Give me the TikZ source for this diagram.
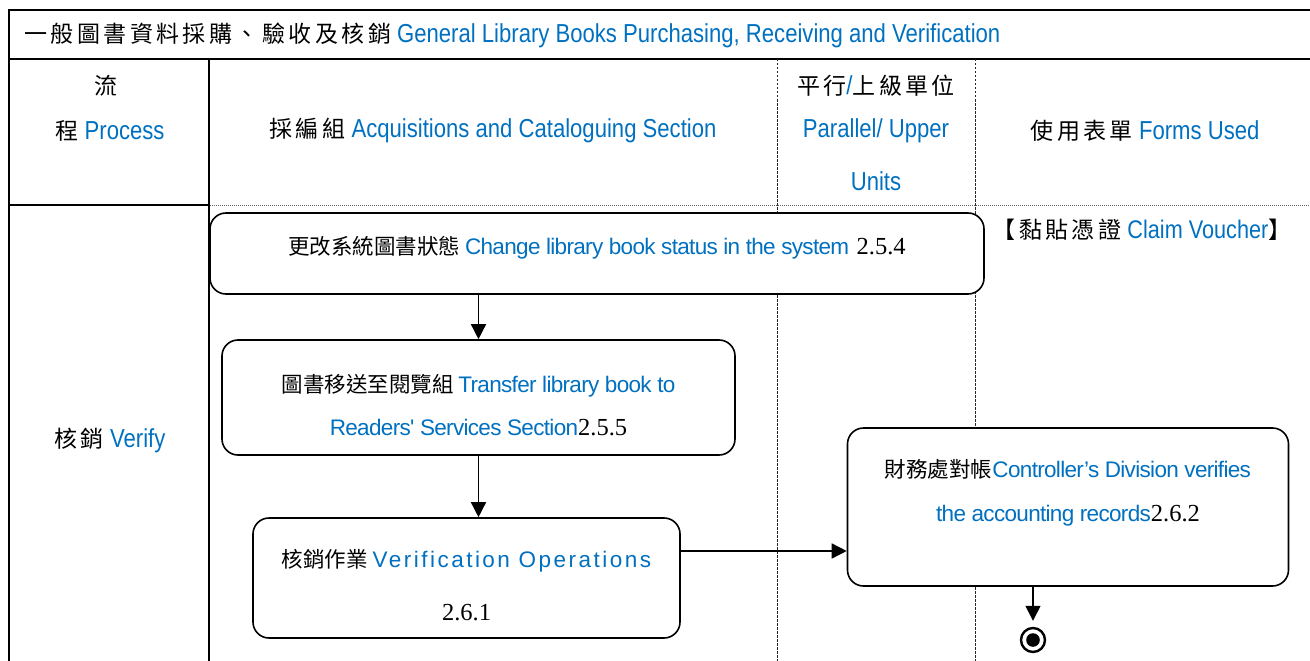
\documentclass[tikz,border=0pt]{standalone}
\usepackage{fontspec}
\setmainfont{Liberation Serif}
\newfontfamily\cjk{Noto Sans CJK TC}
\newfontfamily\cjkL[LetterSpace=15]{Noto Sans CJK TC}
\newfontfamily\enN[FakeStretch=0.85]{Liberation Sans}
\newfontfamily\enT[LetterSpace=-3]{Liberation Sans}
\newfontfamily\enW[LetterSpace=11]{Liberation Sans}
\usetikzlibrary{arrows.meta}
\definecolor{eb}{RGB}{0,112,192}
\newcommand\hz{\fontsize{23}{28}\selectfont}
\newcommand\bz{\fontsize{21.5}{26}\selectfont}
\newcommand\nz{\fontsize{24.5}{26}\selectfont}
\newcommand\enh[1]{{\enN\fontsize{26}{28}\selectfont\color{eb}#1}}
\newcommand\ebx[1]{{\enT\fontsize{22.5}{26}\selectfont\color{eb}#1}}
\newcommand\num[1]{{\rmfamily\nz #1}}
\newcommand\shifted[2]{\raisebox{#1}[0pt][0pt]{\begin{tabular}{@{}c@{}}#2\end{tabular}}}
\begin{document}
\begin{tikzpicture}[x=1pt,y=-1pt,
  frame/.style={line width=2pt},
  lanedash/.style={line width=0.8pt,dash pattern=on 2.5pt off 1.5pt,black!85},
  rowdot/.style={line width=1pt,dash pattern=on 1pt off 1pt,black!60},
  stepbox/.style={draw,rounded corners=16pt,line width=1.6pt,inner sep=0pt,fill=white},
  arr/.style={line width=1.5pt,-{Triangle[length=15pt,width=15pt]}},
  txt/.style={inner sep=0pt}]
\useasboundingbox (0,0) rectangle (1310,661);
% table lines
\draw[frame] (9,661) -- (9,10) -- (1310,10);
\draw[frame] (9,59) -- (1310,59);
\draw[frame] (209,59) -- (209,661);
\draw[frame] (9,205) -- (209,205);
\draw[rowdot] (210,205) -- (1310,205);
\draw[lanedash] (777,59) -- (777,661);
\draw[lanedash] (975,59) -- (975,661);
% title and headers
\node[txt,anchor=west] (title) at (24,35) {{\cjkL\hz 一般圖書資料採購、驗收及核銷}\enh{\ General Library Books Purchasing, Receiving and Verification}};
\node[txt] (h1a) at (106,86) {\cjkL\hz 流};
\node[txt] (h1b) at (110,131) {{\cjkL\hz 程}\enh{\ Process}};
\node[txt] (h2) at (493,131) {{\cjkL\hz 採編組}\enh{\ Acquisitions and Cataloguing Section}};
\node[txt] (h3a) at (876,86) {{\cjkL\hz 平行}\enh{/}{\cjkL\hz 上級單位}};
\node[txt] (h3b) at (876,131) {\enh{Parallel/ Upper}};
\node[txt] (h3c) at (876,181) {\enh{Units}};
\node[txt] (h4) at (1145,131) {{\cjkL\hz 使用表單}\enh{\ Forms Used}};
\node[txt] (lane) at (110,440) {{\cjkL\hz 核銷}\enh{\ Verify}};
\node[txt] (form) at (1142,230) {{\cjkL\hz 【黏貼憑證}{\enN\fontsize{25.5}{28}\selectfont\color{eb}\ Claim Voucher}{\cjk\hz 】}};
% boxes
\node[stepbox,minimum width=774pt,minimum height=81pt] (b1) at (597,253.5)
  {\shifted{3pt}{{\cjk\bz 更改系統圖書狀態 }\ebx{Change library book status in the system}\ \ \ \num{2.5.4}}};
\node[stepbox,minimum width=513pt,minimum height=115pt] (b2) at (478.5,397.5)
  {\shifted{-12pt}{{\cjk\bz 圖書移送至閱覽組 }\ebx{Transfer library book to}\\[23pt]\ebx{Readers' Services Section}\num{2.5.5}}};
\node[stepbox,minimum width=427pt,minimum height=120pt] (b3) at (466.5,578)
  {\shifted{-11pt}{{\cjk\bz 核銷作業 }{\enW\fontsize{22.5}{26}\selectfont\color{eb}Verification Operations}\\[33pt]\num{2.6.1}}};
\node[stepbox,minimum width=441pt,minimum height=158pt] (b4) at (1068,507)
  {\shifted{12pt}{{\cjk\bz 財務處對帳}\ebx{Controller’s Division verifies}\\[24pt]\ebx{the accounting records}\num{2.6.2}}};
\node[circle,draw,line width=2.4pt,minimum size=24pt,inner sep=0pt,
  path picture={\fill (path picture bounding box.center) circle (6.8pt);}] (end) at (1033,640) {};
% connectors
\draw[arr] (b1.south -| b2.north) -- (b2.north);
\draw[arr] (b2.south) -- (b3.north -| b2.south);
\coordinate (hy) at (0,551);
\draw[arr] (b3.east |- hy) -- (b4.west |- hy);
\draw[arr,shorten >=6pt] (b4.south -| end) -- (end.north);
\end{tikzpicture}
\end{document}
